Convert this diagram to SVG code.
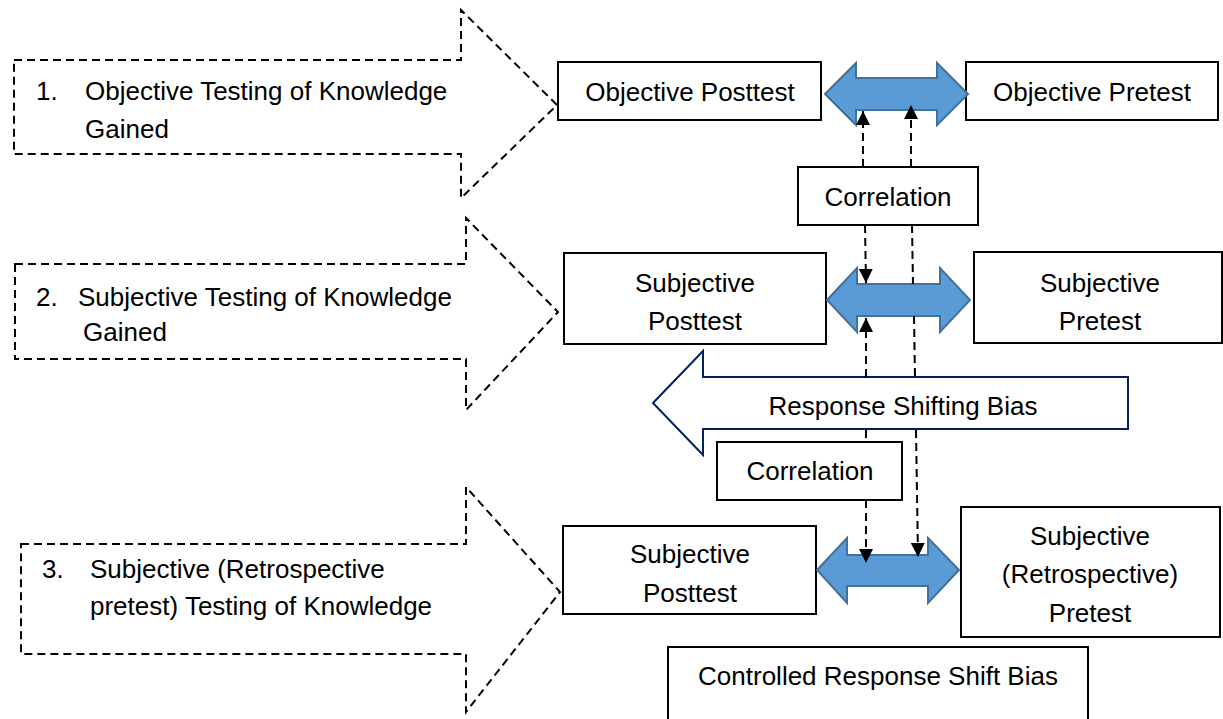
<svg xmlns="http://www.w3.org/2000/svg" width="1223" height="719" viewBox="0 0 1223 719">
<defs>
<style>
.dash{fill:none;stroke:#000;stroke-width:2;stroke-dasharray:8 5}
.box{fill:#fff;stroke:#000;stroke-width:2}
.blue{fill:#5b9bd5;stroke:#41719c;stroke-width:2;stroke-linejoin:miter}
.resp{fill:#fff;stroke:#002060;stroke-width:2}
.conn{fill:none;stroke:#000;stroke-width:2;stroke-dasharray:8 5}
text{font-family:"Liberation Sans",Arial,sans-serif;font-size:26px;fill:#000}
.c{text-anchor:middle}
</style>
<marker id="ah" markerUnits="userSpaceOnUse" markerWidth="14" markerHeight="16" viewBox="0 0 14 16" refX="14" refY="8" orient="auto">
<path d="M0,1 L14,8 L0,15 Z" fill="#000"/>
</marker>
</defs>

<g id="arrow1">
<path class="dash" d="M14,60 H461 V10 L557,105 L461,198 V154 H14 Z"/>
<text x="36" y="100">1.</text>
<text x="85" y="100">Objective Testing of Knowledge</text>
<text x="85" y="138">Gained</text>
</g>
<g id="arrow2">
<path class="dash" d="M15,264 H466 V218 L558,312 L466,410 V359 H15 Z"/>
<text x="36" y="306">2.</text>
<text x="78" y="306">Subjective Testing of Knowledge</text>
<text x="83" y="341">Gained</text>
</g>
<g id="arrow3">
<path class="dash" d="M21,544 H466 V487 L560,592 L466,712 V654 H21 Z"/>
<text x="42" y="578">3.</text>
<text x="90" y="578">Subjective (Retrospective</text>
<text x="90" y="615">pretest) Testing of Knowledge</text>
</g>

<g id="objective-posttest">
<rect class="box" x="558" y="62" width="263" height="58"/>
<text class="c" x="690" y="101">Objective Posttest</text>
</g>
<g id="objective-pretest">
<rect class="box" x="966" y="62" width="252" height="58"/>
<text class="c" x="1092" y="101">Objective Pretest</text>
</g>
<g id="blue1">
<path class="blue" d="M825,94 L856,63 V78 H937 V63 L968,94 L937,125 V110 H856 V125 Z"/>
</g>
<g id="correlation1">
<rect class="box" x="798" y="167" width="180" height="58"/>
<text class="c" x="888" y="206">Correlation</text>
</g>

<g id="subjective-posttest">
<rect class="box" x="564" y="253" width="262" height="91"/>
<text class="c" x="695" y="292">Subjective</text>
<text class="c" x="695" y="330">Posttest</text>
</g>
<g id="subjective-pretest">
<rect class="box" x="974" y="252" width="248" height="91"/>
<text class="c" x="1100" y="292">Subjective</text>
<text class="c" x="1100" y="330">Pretest</text>
</g>
<g id="blue2">
<path class="blue" d="M827,300 L857,268 V284 H940 V268 L970,300 L940,332 V316 H857 V332 Z"/>
</g>

<g id="response-shift">
<path class="resp" d="M653,403 L703,351 V377 H1128 V429 H703 V455 Z"/>
<text class="c" x="903" y="415">Response Shifting Bias</text>
</g>

<g id="correlation2">
<rect class="box" x="717" y="442" width="185" height="58"/>
<text class="c" x="810" y="480">Correlation</text>
</g>

<g id="subjective-posttest-3">
<rect class="box" x="563" y="526" width="253" height="88"/>
<text class="c" x="690" y="563">Subjective</text>
<text class="c" x="690" y="602">Posttest</text>
</g>
<g id="retro-pretest">
<rect class="box" x="961" y="507" width="259" height="130"/>
<text class="c" x="1090" y="545">Subjective</text>
<text class="c" x="1090" y="583">(Retrospective)</text>
<text class="c" x="1090" y="622">Pretest</text>
</g>
<g id="blue3">
<path class="blue" d="M817,570 L847,538 V555 H928 V538 L959,570 L928,603 V586 H847 V603 Z"/>
</g>

<g id="controlled">
<rect class="box" x="668" y="647" width="420" height="90"/>
<text class="c" x="878" y="685">Controlled Response Shift Bias</text>
</g>

<g id="connectors">
<line class="conn" x1="863" y1="167" x2="863" y2="111" marker-end="url(#ah)"/>
<line class="conn" x1="911" y1="167" x2="911" y2="105" marker-end="url(#ah)"/>
<line class="conn" x1="865" y1="225" x2="866" y2="283" marker-end="url(#ah)"/>
<line class="conn" x1="912" y1="225" x2="913" y2="284"/>
<line class="conn" x1="866" y1="377" x2="866" y2="318" marker-end="url(#ah)"/>
<line class="conn" x1="914" y1="316" x2="915" y2="377"/>
<line class="conn" x1="866" y1="430" x2="866" y2="442"/>
<line class="conn" x1="916" y1="430" x2="918" y2="557" marker-end="url(#ah)"/>
<line class="conn" x1="866" y1="500" x2="866" y2="563" marker-end="url(#ah)"/>
</g>
</svg>
